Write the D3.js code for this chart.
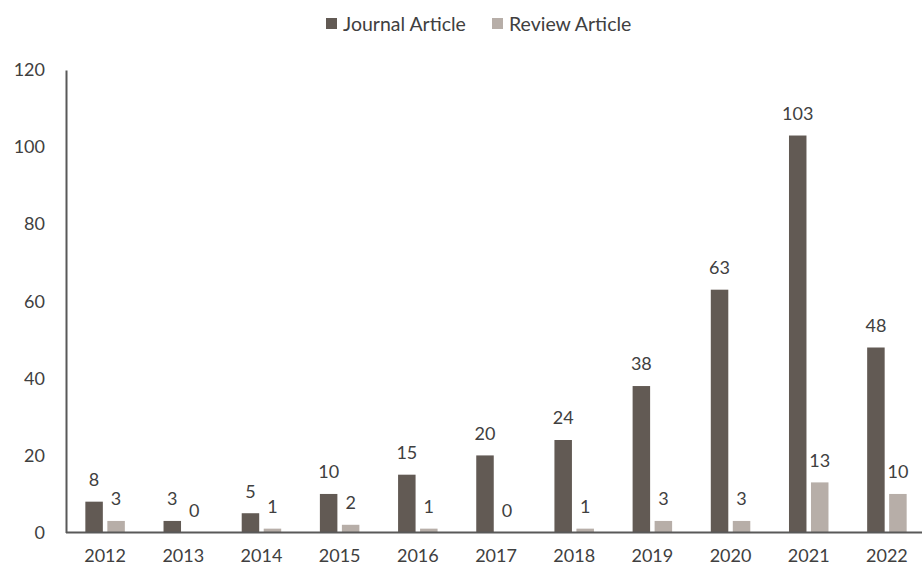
<!DOCTYPE html>
<html>
<head>
<meta charset="utf-8">
<script src="https://cdn.jsdelivr.net/npm/d3@7"></script>
<style>
  html, body { margin: 0; padding: 0; background: #fff; }
  svg { display: block; }
  text { font-family: Lato, "Open Sans", sans-serif; fill: #404040; }
</style>
</head>
<body>
<svg id="chart" width="922" height="569"></svg>
<script>
const years = ["2012","2013","2014","2015","2016","2017","2018","2019","2020","2021","2022"];
const seriesNames = ["Journal Article", "Review Article"];
const journal = [8, 3, 5, 10, 15, 20, 24, 38, 63, 103, 48];
const review = [3, 0, 1, 2, 1, 0, 1, 3, 3, 13, 10];
const yTicks = [0, 20, 40, 60, 80, 100, 120];
const colors = ["#625a54", "#b7aea8"];

const svg = d3.select("#chart");
const plotLeft = 66, plotRight = 926, plotTop = 70, plotBottom = 532.5;

const x0 = d3.scaleBand().domain(years).range([plotLeft, plotRight]).paddingInner(0.4948).paddingOuter(0.2474);
const x1 = d3.scaleBand().domain(seriesNames).range([0, x0.bandwidth()]).paddingInner(0.2045);
const y = d3.scaleLinear().domain([0, 120]).range([plotBottom, plotTop]);

const data = years.map((yr, i) => ({ year: yr, values: [
  { name: seriesNames[0], v: journal[i], c: colors[0] },
  { name: seriesNames[1], v: review[i], c: colors[1] }
]}));

const g = svg.append("g").selectAll("g").data(data).join("g")
  .attr("transform", d => `translate(${x0(d.year)},0)`);

g.selectAll("rect").data(d => d.values).join("rect")
  .attr("x", d => x1(d.name))
  .attr("width", x1.bandwidth())
  .attr("y", d => y(d.v))
  .attr("height", d => y(0) - y(d.v))
  .attr("fill", d => d.c);

g.selectAll("text.val").data(d => d.values).join("text")
  .attr("class", "val")
  .attr("x", d => x1(d.name) + x1.bandwidth() / 2)
  .attr("y", d => y(d.v) - 22)
  .attr("dy", "0.35em")
  .attr("text-anchor", "middle")
  .style("font-size", "18px")
  .text(d => d.v);

// Y axis
const yAxis = d3.axisLeft(y).tickValues(yTicks).tickSize(0).tickPadding(21);
const ya = svg.append("g").attr("transform", `translate(${plotLeft},0)`).call(yAxis);
ya.select(".domain").attr("stroke", "#595959").attr("stroke-width", 2);
ya.selectAll("text").style("font-size", "18px").style("fill", "#404040").style("font-family", "Lato, sans-serif");

// X axis
const xAxis = d3.axisBottom(x0).tickSize(0).tickPadding(17);
const xa = svg.append("g").attr("transform", `translate(0,${plotBottom})`).call(xAxis);
xa.select(".domain").attr("d", `M${plotLeft},0H922`).attr("stroke", "#595959").attr("stroke-width", 2);
xa.selectAll("text").style("font-size", "18px").style("fill", "#404040").style("font-family", "Lato, sans-serif");

// Legend
const legendX = [326, 492];
const lg = svg.append("g").selectAll("g").data(seriesNames).join("g")
  .attr("transform", (d, i) => `translate(${legendX[i]},0)`);
lg.append("rect").attr("x", 0).attr("y", 18).attr("width", 11).attr("height", 11)
  .attr("fill", (d, i) => colors[i]);
lg.append("text").attr("x", 17).attr("y", 24).attr("dy", "0.35em")
  .style("font-size", "19.5px").text(d => d);
</script>
</body>
</html>
